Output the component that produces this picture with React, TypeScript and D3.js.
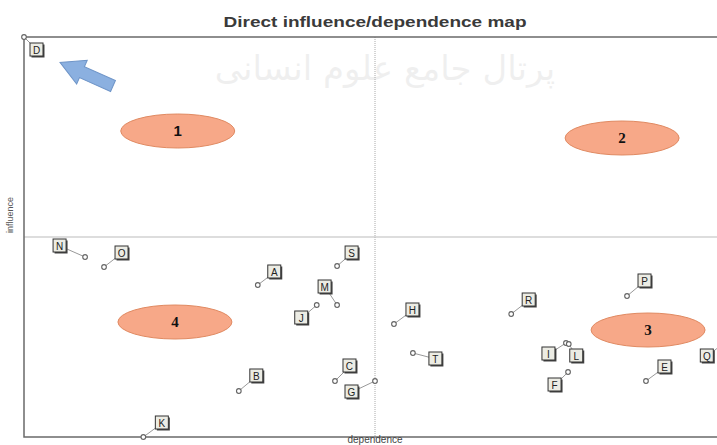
import React, { useEffect, useRef } from 'react';
import * as d3 from 'd3';

// variables of the structural analysis (MICMAC direct map)
const labels = ['D', 'N', 'O', 'S', 'A', 'M', 'J', 'C', 'G', 'B', 'K', 'H', 'T', 'R', 'P', 'I', 'L', 'F', 'E', 'Q'];
const dependence = [0, 8.7, 11.4, 44.6, 33.3, 44.6, 41.7, 44.3, 50, 30.6, 17, 52.7, 55.4, 69.4, 85.9, 77.2, 77.6, 77.5, 88.6, 99.9];
const influence = [100, 45, 42.5, 42.75, 38, 33, 33, 14, 14, 11.5, 0, 28.25, 21, 30.75, 35.25, 23.5, 23.25, 16.25, 14, 23.75];

// label placement relative to its point (px)
const labelDx = [13, -25, 18, 15, 17, -12, -15, 15, -23, 18, 19, 19, 23, 18, 18, -17, 8, -13, 19, -18];
const labelDy = [13, -11, -14, -13, -13, -18, 13, -15, 11, -15, -14, -14, 6, -14, -15, 11, 12, 13, -14, 14];

// quadrant markers
const zoneNames = ['1', '2', '3', '4'];
const zoneDep = [21.9, 85.2, 88.9, 21.5];
const zoneInf = [76.5, 74.75, 26.75, 28.75];

const W = 717;
const H = 445;

export default function App() {
    const ref = useRef(null);

    useEffect(() => {
        const svg = d3.select(ref.current);
        svg.selectAll('*').remove();

        const x = d3.scaleLinear().domain([0, 100]).range([24, 726]);
        const y = d3.scaleLinear().domain([0, 100]).range([437, 37]);

        svg.append('rect').attr('width', W).attr('height', H).attr('fill', '#fff');

        // faint watermark
        svg.append('text')
            .attr('x', 385).attr('y', 80)
            .attr('text-anchor', 'middle')
            .style('font-family', 'DejaVu Sans')
            .style('font-size', '34px')
            .style('fill', '#000')
            .style('opacity', 0.06)
            .text('پرتال جامع علوم انسانی');

        svg.append('text')
            .attr('x', 375).attr('y', 27)
            .attr('text-anchor', 'middle')
            .attr('textLength', 303)
            .attr('lengthAdjust', 'spacingAndGlyphs')
            .style('font-family', 'Liberation Sans, Arial')
            .style('font-weight', 'bold')
            .style('font-size', '15px')
            .style('fill', '#3a3a3a')
            .text('Direct influence/dependence map');

        // centre lines
        svg.append('line')
            .attr('x1', x(50)).attr('x2', x(50))
            .attr('y1', y(100)).attr('y2', y(0))
            .attr('stroke', '#aaa').attr('stroke-width', 1)
            .attr('stroke-dasharray', '1,1');
        svg.append('line')
            .attr('x1', x(0)).attr('x2', x(100))
            .attr('y1', y(50)).attr('y2', y(50))
            .attr('stroke', '#bbb').attr('stroke-width', 1.2);

        // frame
        svg.append('path')
            .attr('d', `M${x(100)},${y(100)}H${x(0)}V${y(0)}H${x(100)}`)
            .attr('fill', 'none')
            .attr('stroke', '#6a6a6a')
            .attr('stroke-width', 1.5);

        svg.append('text')
            .attr('transform', `translate(13, 215) rotate(-90)`)
            .attr('text-anchor', 'middle')
            .style('font-family', 'Liberation Sans, Arial')
            .style('font-size', '9px')
            .style('fill', '#555')
            .text('influence');

        svg.append('text')
            .attr('x', 375).attr('y', 442.5)
            .attr('text-anchor', 'middle')
            .style('font-family', 'Liberation Sans, Arial')
            .style('font-size', '10px')
            .style('fill', '#444')
            .text('dependence');

        // zones
        const zones = svg.selectAll('g.zone')
            .data(zoneNames)
            .enter().append('g')
            .attr('class', 'zone')
            .attr('transform', (d, i) => `translate(${x(zoneDep[i])}, ${y(zoneInf[i])})`);
        zones.append('ellipse')
            .attr('rx', 57).attr('ry', 17)
            .attr('fill', '#f7a888')
            .attr('stroke', '#e08a62')
            .attr('stroke-width', 1);
        zones.append('text')
            .attr('y', 5)
            .attr('text-anchor', 'middle')
            .style('font-family', (d) => (d === '1' ? 'Liberation Sans, Arial' : 'Liberation Serif, Times New Roman'))
            .style('font-weight', 'bold')
            .style('font-size', '15px')
            .style('fill', '#111')
            .text((d) => d);

        // arrow pointing at D
        const arrow = [[0, -6], [34, -6], [34, -13], [58, 0], [34, 13], [34, 6], [0, 6]];
        svg.append('path')
            .attr('d', d3.line()(arrow) + 'Z')
            .attr('transform', `translate(113, 86) rotate(${180 + 24}) `)
            .attr('fill', '#8bb0e0')
            .attr('stroke', '#6f95c8')
            .attr('stroke-width', 1);

        // points
        const pts = svg.selectAll('g.pt')
            .data(labels)
            .enter().append('g')
            .attr('class', 'pt')
            .attr('transform', (d, i) => `translate(${x(dependence[i])}, ${y(influence[i])})`);
        pts.append('line')
            .attr('x1', 0).attr('y1', 0)
            .attr('x2', (d, i) => labelDx[i]).attr('y2', (d, i) => labelDy[i])
            .attr('stroke', '#999').attr('stroke-width', 1);
        pts.append('circle')
            .attr('r', 2.3)
            .attr('fill', '#fff')
            .attr('stroke', '#666')
            .attr('stroke-width', 1.2);
        pts.append('rect')
            .attr('x', (d, i) => labelDx[i] - 5.5).attr('y', (d, i) => labelDy[i] - 5.5)
            .attr('width', 13).attr('height', 13)
            .attr('fill', '#444');
        pts.append('rect')
            .attr('x', (d, i) => labelDx[i] - 7).attr('y', (d, i) => labelDy[i] - 7)
            .attr('width', 13).attr('height', 13)
            .attr('fill', '#ecece4')
            .attr('stroke', '#333')
            .attr('stroke-width', 1);
        pts.append('text')
            .attr('x', (d, i) => labelDx[i] - 0.5).attr('y', (d, i) => labelDy[i] + 3.5)
            .attr('text-anchor', 'middle')
            .style('font-family', 'Liberation Sans, Arial')
            .style('font-size', '10px')
            .style('fill', '#222')
            .text((d) => d);
    }, []);

    return (
        <svg ref={ref} width={W} height={H}
            style={{ position: 'absolute', left: 0, top: 0, display: 'block' }} />
    );
}
